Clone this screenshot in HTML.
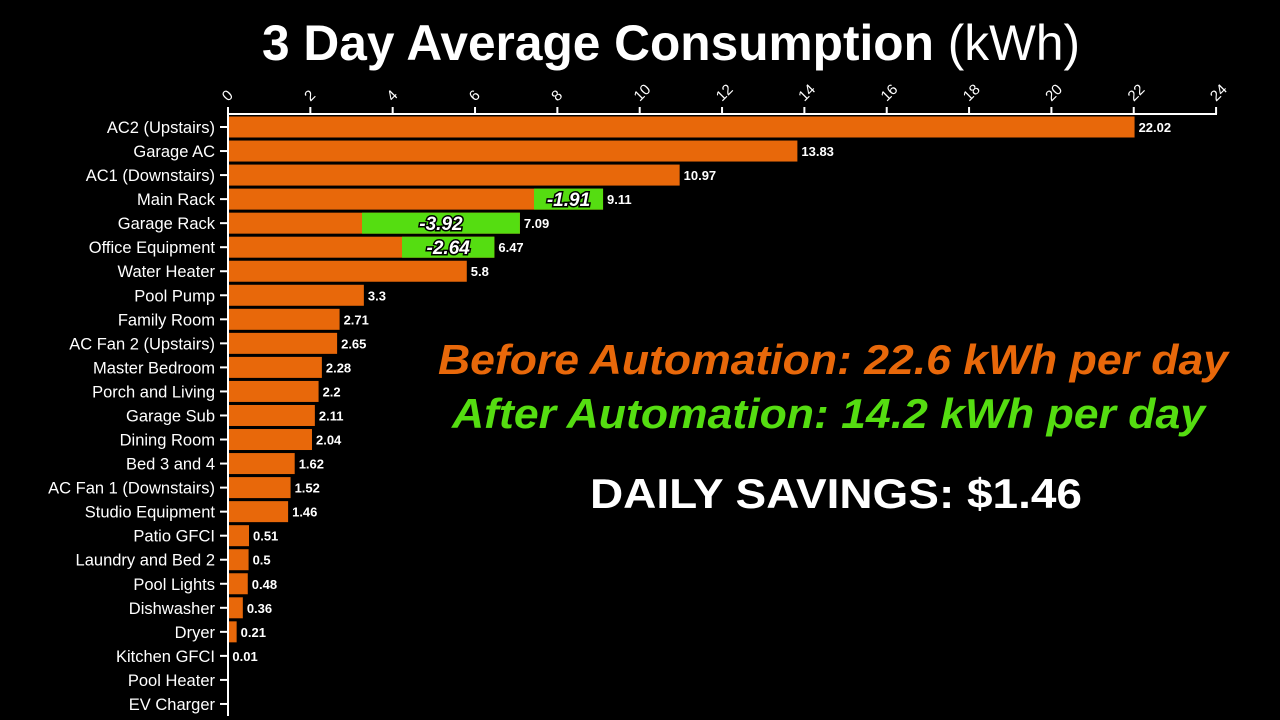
<!DOCTYPE html>
<html><head><meta charset="utf-8"><style>
html,body{margin:0;padding:0;background:#000;width:1280px;height:720px;overflow:hidden}
</style></head><body>
<svg width="1280" height="720" viewBox="0 0 1280 720" xmlns="http://www.w3.org/2000/svg" font-family="Liberation Sans, sans-serif">
<rect width="1280" height="720" fill="#000"/>
<text x="262" y="60" textLength="818" lengthAdjust="spacingAndGlyphs" fill="#fff" font-size="50" font-weight="bold">3 Day Average Consumption <tspan font-weight="normal">(kWh)</tspan></text>
<g id="axis" stroke="#fff" stroke-width="2" fill="none">
<line x1="228" y1="114" x2="1217" y2="114"/>
<line x1="228" y1="114" x2="228" y2="716"/>
</g>
<g id="ticks"></g>
<g id="bars"></g>
<text x="438" y="374" textLength="790" lengthAdjust="spacingAndGlyphs" fill="#e8680a" font-size="42" font-weight="bold" font-style="italic">Before Automation: 22.6 kWh per day</text>
<text x="452" y="428" textLength="753" lengthAdjust="spacingAndGlyphs" fill="#55dd11" font-size="42" font-weight="bold" font-style="italic">After Automation: 14.2 kWh per day</text>
<text x="590" y="508" textLength="492" lengthAdjust="spacingAndGlyphs" fill="#fff" font-size="42" font-weight="bold">DAILY SAVINGS: $1.46</text>
</svg>
<script>
const ns="http://www.w3.org/2000/svg";
function el(p,t,a,txt){const e=document.createElementNS(ns,t);for(const k in a)e.setAttribute(k,a[k]);if(txt!==undefined)e.textContent=txt;p.appendChild(e);return e;}
const X=v=>228+v*41.17;
const tk=document.getElementById('ticks');
for(let v=0;v<=24;v+=2){const x=X(v);el(tk,'line',{x1:x,y1:107,x2:x,y2:114,stroke:'#fff','stroke-width':2});
el(tk,'text',{x:x,y:102,fill:'#fff','font-size':15,transform:`rotate(-45 ${x} 102)`},String(v));}
const d=[["AC2 (Upstairs)",22.02],["Garage AC",13.83],["AC1 (Downstairs)",10.97],["Main Rack",9.11,1.91,534],["Garage Rack",7.09,3.92,362],["Office Equipment",6.47,2.64,402],["Water Heater",5.8],["Pool Pump",3.3],["Family Room",2.71],["AC Fan 2 (Upstairs)",2.65],["Master Bedroom",2.28],["Porch and Living",2.2],["Garage Sub",2.11],["Dining Room",2.04],["Bed 3 and 4",1.62],["AC Fan 1 (Downstairs)",1.52],["Studio Equipment",1.46],["Patio GFCI",0.51],["Laundry and Bed 2",0.5],["Pool Lights",0.48],["Dishwasher",0.36],["Dryer",0.21],["Kitchen GFCI",0.01],["Pool Heater",null],["EV Charger",null]];
const b=document.getElementById('bars');
d.forEach((r,i)=>{const y=127+i*24.04;
el(b,'line',{x1:220,y1:y,x2:228,y2:y,stroke:'#fff','stroke-width':2});
el(b,'text',{x:215,y:y+6,'text-anchor':'end',fill:'#fff','font-size':16.5},r[0]);
if(r[1]==null)return;
const w=X(r[1])-229;
if(w>0.5)el(b,'rect',{x:229,y:y-10.5,width:w,height:21,fill:'#e8680a'});
if(r[2]){const gx=r[3];el(b,'rect',{x:gx,y:y-10.5,width:X(r[1])-gx,height:21,fill:'#55dd11'});
el(b,'text',{x:(gx+X(r[1]))/2,y:y+7,'text-anchor':'middle',fill:'#fff','font-size':19,'font-weight':'bold','font-style':'italic',stroke:'#000','stroke-width':3,'paint-order':'stroke'},'-'+r[2]);}
el(b,'text',{x:X(r[1])+4,y:y+5,fill:'#fff','font-size':13,'font-weight':'bold'},String(r[1]));
});
</script>
</body></html>
